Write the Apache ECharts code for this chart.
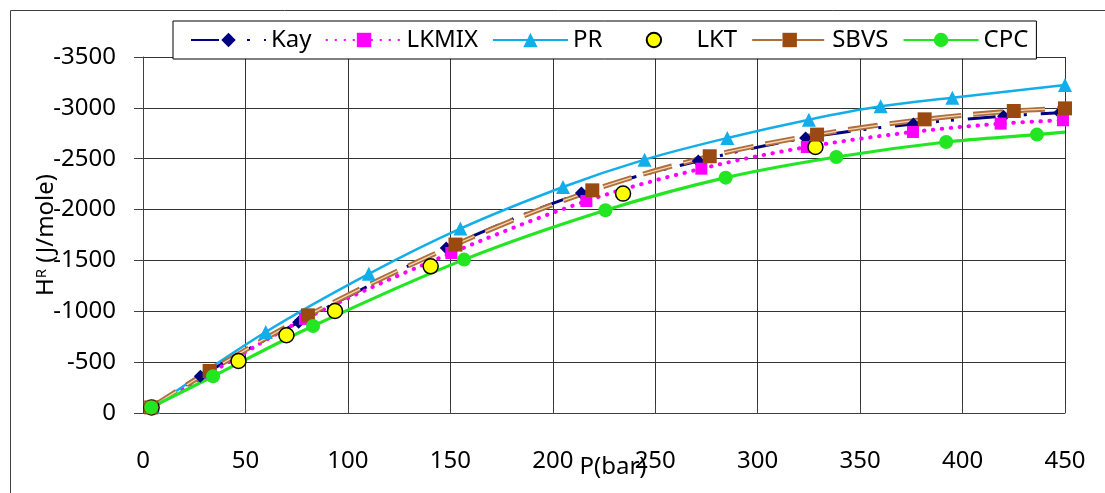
<!DOCTYPE html>
<html><head><meta charset="utf-8">
<script src="https://cdn.jsdelivr.net/npm/echarts@6/dist/echarts.min.js"></script>
<style>html,body{margin:0;padding:0;background:#fff}#c{width:1105px;height:493px}</style>
</head><body><div id="c"></div>
<script>
// ---- data ----
const xTicks = [0, 50, 100, 150, 200, 250, 300, 350, 400, 450];
const yTicks = [0, -500, -1000, -1500, -2000, -2500, -3000, -3500];
const seriesNames = ['Kay', 'LKMIX', 'PR', 'LKT', 'SBVS', 'CPC'];

const kayP = [4, 28, 76, 148, 214, 271, 323.4, 376, 420, 447.4];
const kayH = [-55, -362, -892, -1622, -2162, -2478, -2704, -2842, -2918, -2953];

const lkmixP = [4, 33, 79, 150.5, 216.4, 272.5, 324, 375.8, 418.6, 449];
const lkmixH = [-55, -395, -925, -1573, -2084, -2402, -2615, -2763, -2845, -2878];

const prP = [5, 59.9, 110.2, 154.9, 205, 244.8, 285.2, 325, 360, 395, 450];
const prH = [-60, -796, -1368, -1813, -2222, -2491, -2704, -2884, -3015, -3100, -3225];

const lktP = [4.2, 46.6, 70, 93.7, 140.4, 234.3, 328.2];
const lktH = [-55, -511, -764, -1003, -1442, -2157, -2615];

const sbvsP = [4, 32.5, 80.5, 152.5, 219.3, 276.6, 329, 381.5, 425, 450];
const sbvsH = [-55, -413, -960, -1656, -2189, -2524, -2737, -2887, -2969, -2995];

const cpcP = [4, 34.2, 83, 156.7, 225.7, 284.4, 338.4, 392, 436.3, 450];
const cpcH = [-55, -361, -855, -1508, -1993, -2314, -2517, -2664, -2737, -2762];
const cpcMarker = [true, true, true, true, true, true, true, true, true, false];

// ---- build ----
const zip = (a, b) => a.map((v, i) => [v, b[i]]);
const FONT = 'Noto Sans';
const SMOOTH = 0.35;

const chart = echarts.init(document.getElementById('c'), null, {renderer: 'canvas'});
const sbvsData = zip(sbvsP, sbvsH);
chart.setOption({
  animation: false,
  backgroundColor: '#fff',
  graphic: [{
    type: 'rect', left: 8, top: 8, z: 0, silent: true,
    shape: {x: 0, y: 0, width: 1096, height: 495},
    style: {fill: 'none', stroke: '#404040', lineWidth: 1}
  }],
  grid: {left: 143, right: 40, top: 57, bottom: 80, containLabel: false, outerBoundsMode: 'none'},
  legend: {
    data: seriesNames,
    left: 173, top: 21,
    padding: [7, 8, 7, 17],
    itemGap: 14,
    itemWidth: 75, itemHeight: 18,
    backgroundColor: '#fff',
    borderColor: '#000', borderWidth: 1,
    textStyle: {fontFamily: FONT, fontSize: 24, color: '#000'}
  },
  xAxis: {
    type: 'value', min: 0, max: 450, interval: 50,
    name: 'P(bar)', nameLocation: 'middle', nameGap: 42, nameMoveOverlap: false,
    nameTextStyle: {fontFamily: FONT, fontSize: 24, color: '#000', padding: [0, 0, 0, 18]},
    axisLine: {show: true, onZero: false, lineStyle: {color: '#404040', width: 1}},
    axisTick: {show: true, inside: true, length: 9, lineStyle: {color: '#404040'}},
    axisLabel: {fontFamily: FONT, fontSize: 24, color: '#000', margin: 36,
      formatter: v => String(xTicks.find(t => t === v) ?? v)},
    splitLine: {show: true, lineStyle: {color: '#333', width: 1}}
  },
  yAxis: {
    type: 'value', min: -3500, max: 0, interval: 500, inverse: true,
    name: 'H{sup|R} (J/mole)', nameLocation: 'middle', nameGap: 84, nameRotate: 90, nameMoveOverlap: false,
    nameTextStyle: {fontFamily: FONT, fontSize: 24, color: '#000',
      rich: {sup: {fontFamily: FONT, fontSize: 15, color: '#000', verticalAlign: 'top', padding: [0, 0, 10, 0]}}},
    axisLine: {show: true, onZero: false, lineStyle: {color: '#404040', width: 1}},
    axisTick: {show: true, inside: false, length: 9, lineStyle: {color: '#404040'}},
    axisLabel: {fontFamily: FONT, fontSize: 24, color: '#000', margin: 27,
      formatter: v => String(yTicks.find(t => t === v) ?? v)},
    splitLine: {show: true, lineStyle: {color: '#333', width: 1}}
  },
  series: [
    {
      name: 'Kay', type: 'line', data: zip(kayP, kayH),
      smooth: SMOOTH,
      symbol: 'diamond', symbolSize: 13,
      itemStyle: {color: '#000080'},
      lineStyle: {color: '#000080', width: 3, type: [28, 13, 3, 12, 3, 14]}
    },
    {
      name: 'LKMIX', type: 'line', data: zip(lkmixP, lkmixH),
      smooth: SMOOTH,
      symbol: 'rect', symbolSize: 12,
      itemStyle: {color: '#FF00FF'},
      lineStyle: {color: '#FF00FF', width: 4, type: [0.5, 8.5], cap: 'round'}
    },
    {
      name: 'PR', type: 'line', data: zip(prP, prH),
      smooth: SMOOTH,
      symbol: 'triangle', symbolSize: 14,
      itemStyle: {color: '#12AEEA'},
      lineStyle: {color: '#12AEEA', width: 2.5}
    },
    {
      name: 'LKT', type: 'line', data: zip(lktP, lktH),
      symbol: 'circle', symbolSize: 15,
      itemStyle: {color: '#FFFF00', borderColor: '#000', borderWidth: 1.5, opacity: 1},
      lineStyle: {width: 0, opacity: 0}
    },
    {
      name: 'SBVS', type: 'line', data: sbvsData,
      smooth: SMOOTH,
      symbol: 'rect', symbolSize: 14,
      itemStyle: {color: '#9A4A10'},
      lineStyle: {color: '#B06E38', width: 5, type: [30, 12]}
    },
    {
      name: 'SBVS_stripe', type: 'line', data: sbvsData,
      smooth: SMOOTH, silent: true,
      symbol: 'none',
      lineStyle: {color: '#F3D6B8', width: 1.3, type: [30, 12]}
    },
    {
      name: 'CPC', type: 'line',
      data: zip(cpcP, cpcH).map((d, i) => cpcMarker[i] ? d : {value: d, symbol: 'none'}),
      smooth: SMOOTH,
      symbol: 'circle', symbolSize: 14,
      itemStyle: {color: '#22E622'},
      lineStyle: {color: '#22E622', width: 3.2}
    }
  ]
});
</script>
</body></html>
